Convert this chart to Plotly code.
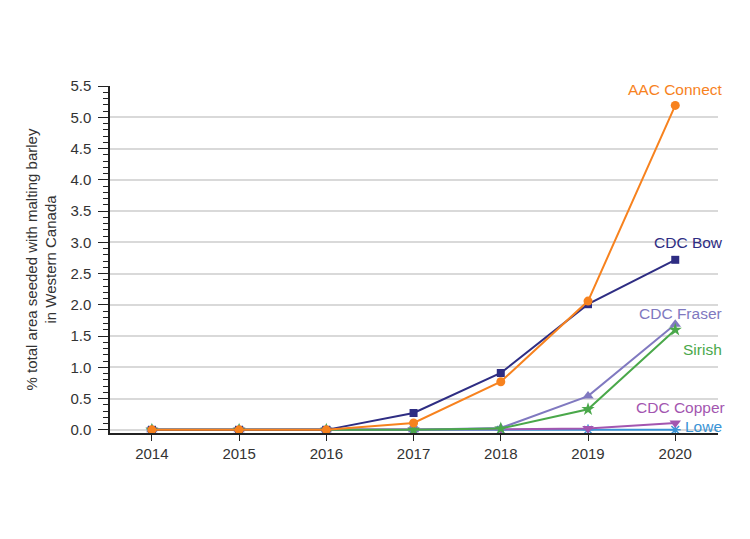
import plotly.graph_objects as go

years = [2014, 2015, 2016, 2017, 2018, 2019, 2020]
aac_connect = [0.0, 0.0, 0.0, 0.11, 0.77, 2.06, 5.19]
cdc_bow = [0.0, 0.0, 0.0, 0.27, 0.91, 2.01, 2.72]
cdc_fraser = [0.0, 0.0, 0.0, 0.0, 0.03, 0.54, 1.69]
sirish = [0.0, 0.0, 0.0, 0.0, 0.02, 0.33, 1.60]
cdc_copper = [0.0, 0.0, 0.0, 0.0, 0.01, 0.02, 0.11]
lowe = [0.0, 0.0, 0.0, 0.0, 0.0, 0.0, 0.0]

series = [
    ("Lowe", lowe, "#3a94d6", "asterisk-open", 9),
    ("CDC Copper", cdc_copper, "#a356b0", "triangle-down", 10),
    ("CDC Fraser", cdc_fraser, "#8079c0", "triangle-up", 10),
    ("Sirish", sirish, "#4aa84a", "star", 10),
    ("CDC Bow", cdc_bow, "#2e2d83", "square", 8),
    ("AAC Connect", aac_connect, "#f7821e", "circle", 9),
]

# label offsets (pixels) relative to last point
label_offsets = {
    "AAC Connect": (0, 16),
    "CDC Bow": (13, 17),
    "CDC Fraser": (5, 11),
    "Sirish": (27, -20),
    "CDC Copper": (5, 16),
    "Lowe": (28, 3),
}

FONT = "Liberation Sans, Arial"

fig = go.Figure()
for name, vals, color, sym, size in series:
    fig.add_trace(go.Scatter(
        x=years, y=vals, mode="lines+markers", name=name,
        line=dict(color=color, width=2),
        marker=dict(symbol=sym, size=size, color=color,
                    line=dict(color=color, width=1.5 if sym == "asterisk-open" else 0)),
        showlegend=False,
    ))
    dx, dy = label_offsets[name]
    fig.add_annotation(x=years[-1], y=vals[-1], text=name, showarrow=False,
                       xshift=dx, yshift=dy,
                       font=dict(color=color, size=15.5, family=FONT))

fig.update_layout(
    width=750, height=539,
    margin=dict(l=110, r=32, t=86, b=106),
    plot_bgcolor="white", paper_bgcolor="white",
    font=dict(family=FONT, size=15, color="#333333"),
)
fig.update_xaxes(
    range=[2013.52, 2020.49], tickvals=years, ticktext=[str(y) for y in years],
    showline=True, linecolor="#222222", linewidth=1.5,
    ticks="outside", ticklen=6, tickcolor="#222222",
    showgrid=False, zeroline=False,
    tickfont=dict(size=15, color="#333333"),
)
fig.update_yaxes(
    range=[-0.05, 5.5], tickvals=[i * 0.5 for i in range(12)],
    ticktext=[f"{i*0.5:.1f}" for i in range(12)],
    showline=True, linecolor="#222222", linewidth=1.5,
    ticks="outside", ticklen=10, tickcolor="#222222",
    ticklabelstandoff=4,
    minor=dict(ticks="outside", ticklen=5, tickcolor="#222222", dtick=0.1, tick0=0, showgrid=False),
    showgrid=True, gridcolor="#d9d9d9", gridwidth=1.5,
    zeroline=False,
    title=dict(text="% total area seeded with malting barley<br>in Western Canada",
               font=dict(size=15, color="#333333"), standoff=10),
    tickfont=dict(size=15, color="#333333"),
)

fig.write_html("out.html")
